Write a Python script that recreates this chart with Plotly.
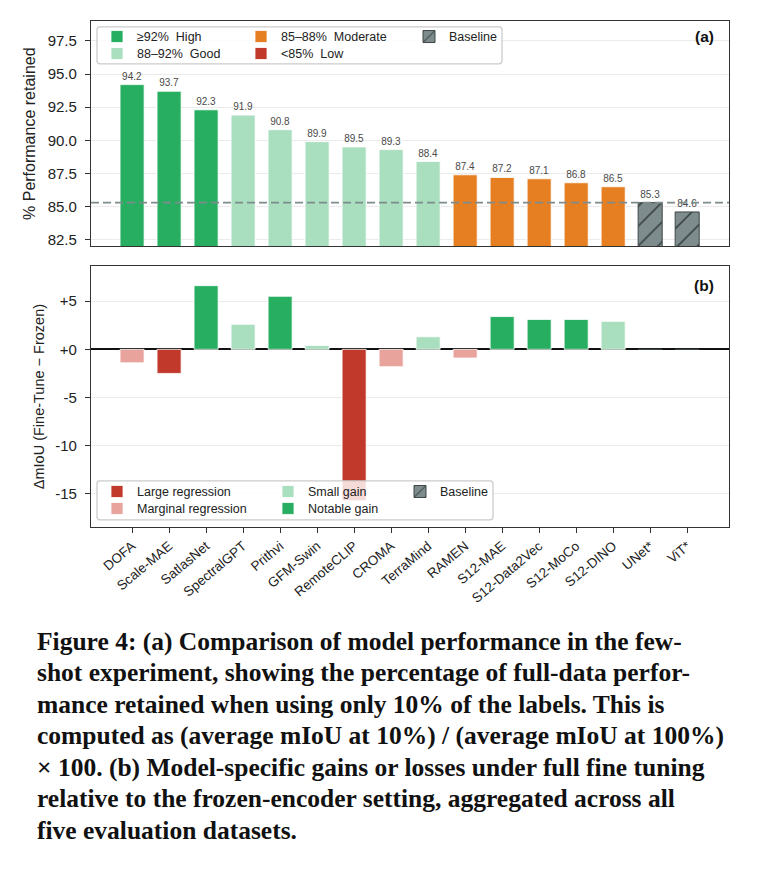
import plotly.graph_objects as go

# ---------------- data ----------------
models = ["DOFA", "Scale-MAE", "SatlasNet", "SpectralGPT", "Prithvi", "GFM-Swin",
          "RemoteCLIP", "CROMA", "TerraMind", "RAMEN", "S12-MAE", "S12-Data2Vec",
          "S12-MoCo", "S12-DINO", "UNet*", "ViT*"]
retained = [94.2, 93.7, 92.3, 91.9, 90.8, 89.9, 89.5, 89.3, 88.4,
            87.4, 87.2, 87.1, 86.8, 86.5, 85.3, 84.6]
delta_miou = [-1.4, -2.5, 6.6, 2.6, 5.5, 0.4, -15.7, -1.8, 1.3,
              -0.9, 3.4, 3.1, 3.1, 2.9, 0.0, 0.0]
baseline_models = ["UNet*", "ViT*"]
baseline_reference = 85.3

a_tickvals = [82.5, 85.0, 87.5, 90.0, 92.5, 95.0, 97.5]
b_tickvals = [-15, -10, -5, 0, 5]
b_ticktext = ["-15", "-10", "-5", "+0", "+5"]

a_labels = ["≥92%\u00a0\u00a0High", "88–92%\u00a0\u00a0Good", "85–88%\u00a0\u00a0Moderate",
            "<85%\u00a0\u00a0Low", "Baseline"]
b_labels = ["Large regression", "Marginal regression", "Small gain", "Notable gain", "Baseline"]

caption_lines = [
    "Figure 4: (a) Comparison of model performance in the few-",
    "shot experiment, showing the percentage of full-data perfor-",
    "mance retained when using only 10% of the labels. This is",
    "computed as (average mIoU at 10%) / (average mIoU at 100%)",
    "× 100. (b) Model-specific gains or losses under full fine tuning",
    "relative to the frozen-encoder setting, aggregated across all",
    "five evaluation datasets.",
]

# ---------------- grouping ----------------
def group_a(m, v):
    if m in baseline_models:
        return 4
    if v >= 92:
        return 0
    if v >= 88:
        return 1
    if v >= 85:
        return 2
    return 3


def group_b(m, v):
    if m in baseline_models:
        return 4
    if v < -2:
        return 0
    if v < 0:
        return 1
    if v <= 3:
        return 2
    return 3


# ---------------- styling ----------------
W, H = 757, 869
def PX(x):
    return x / W
def PY(y):
    return 1 - y / H

FONT = "Liberation Sans, Arial, sans-serif"
C_HIGH, C_GOOD, C_MOD, C_LOW, C_BASE = "#27ae60", "#a9dfbf", "#e67e22", "#c0392b", "#7f8c8d"
C_MARG = "#e8a39c"
a_colors = [C_HIGH, C_GOOD, C_MOD, C_LOW, C_BASE]
b_colors = [C_LOW, C_MARG, C_GOOD, C_HIGH, C_BASE]

# legend text start (px) and row centre (px)
a_leg_pos = [(137, 37), (137, 54), (281, 37), (281, 54), (449, 37)]
b_leg_pos = [(137, 493), (137, 510), (308, 493), (308, 510), (440, 493)]
LEG_TEXT_OFFSET = 40

fig = go.Figure()

def add_group_traces(values, grouper, labels, colors, leg_pos, xaxis, yaxis, leg_start, show_text):
    layout_legends = {}
    for g in range(5):
        xs = [m for m, v in zip(models, values) if grouper(m, v) == g]
        ys = [v for m, v in zip(models, values) if grouper(m, v) == g]
        if not xs:
            # category has no members: keep a null entry so it still appears in the legend
            xs, ys = [models[0]], [None]
        is_base = g == 4
        marker = dict(color=colors[g],
                      line=dict(color="#3d4646" if is_base else "white", width=1.0 if is_base else 0.8))
        if is_base:
            marker["pattern"] = dict(shape="/", fgcolor="#3b4545", bgcolor=colors[g],
                                     size=14, solidity=0.12, fillmode="replace")
        lid = "legend" if leg_start + g == 1 else f"legend{leg_start + g}"
        tr = go.Bar(x=xs, y=ys, name=labels[g], marker=marker, width=0.65,
                    xaxis=xaxis, yaxis=yaxis, legend=lid, showlegend=True,
                    cliponaxis=False)
        if show_text:
            tr.update(text=[f"{v:.1f}" if v is not None else "" for v in ys],
                      textposition="outside",
                      textfont=dict(size=10, color="#4a4a4a", family=FONT),
                      constraintext="none")
        fig.add_trace(tr)
        tx, ty = leg_pos[g]
        layout_legends[lid] = dict(
            visible=True,
            x=PX(tx - LEG_TEXT_OFFSET), y=PY(ty), xanchor="left", yanchor="middle",
            bgcolor="rgba(0,0,0,0)", borderwidth=0, orientation="v",
            font=dict(size=12.5, color="#222", family=FONT), itemclick=False,
            itemdoubleclick=False)
    return layout_legends

legs = {}
legs.update(add_group_traces(retained, group_a, a_labels, a_colors, a_leg_pos, "x", "y", 1, True))
legs.update(add_group_traces(delta_miou, group_b, b_labels, b_colors, b_leg_pos, "x2", "y2", 6, False))

x_dom = [PX(91), PX(729)]
x_range = [-1.11, len(models) - 1 + 1.13]
axis_common = dict(showline=True, mirror=True, linecolor="#333", linewidth=1.3)

fig.update_layout(
    width=W, height=H, margin=dict(l=0, r=0, t=0, b=0),
    paper_bgcolor="white", plot_bgcolor="white", showlegend=True,
    barmode="overlay", font=dict(family=FONT, color="#222"),
    xaxis=dict(domain=x_dom, anchor="y", type="category", categoryorder="array",
               categoryarray=models, range=x_range, showticklabels=False,
               ticks="", showgrid=False, **axis_common),
    yaxis=dict(domain=[PY(247), PY(21)], anchor="x", range=[82.0, 99.0],
               tickvals=a_tickvals, tickformat=".1f", ticks="outside", ticklen=5,
               tickcolor="#333", tickfont=dict(size=15, color="#222"), ticklabelstandoff=5,
               showgrid=True, gridcolor="#ebebeb", gridwidth=1, zeroline=False,
               title=dict(text="% Performance retained", font=dict(size=16, color="#222"),
                          standoff=8),
               **axis_common),
    xaxis2=dict(domain=x_dom, anchor="y2", type="category", categoryorder="array",
                categoryarray=models, range=x_range, tickangle=-40,
                ticks="outside", ticklen=5, tickcolor="#333",
                tickfont=dict(size=13.5, color="#222"), showgrid=False, **axis_common),
    yaxis2=dict(domain=[PY(528), PY(267)], anchor="x2", range=[-18.4, 8.6],
                tickvals=b_tickvals, ticktext=b_ticktext, ticks="outside", ticklen=5,
                tickcolor="#333", tickfont=dict(size=15, color="#222"), ticklabelstandoff=5,
                showgrid=True, gridcolor="#ebebeb", gridwidth=1,
                zeroline=True, zerolinecolor="#111", zerolinewidth=1.6,
                title=dict(text="ΔmIoU (Fine-Tune − Frozen)", font=dict(size=14.5, color="#222"),
                           standoff=7),
                **axis_common),
    **legs,
)

# reference dashed line
fig.add_shape(type="line", xref="x domain", yref="y", x0=0, x1=1,
              y0=baseline_reference, y1=baseline_reference,
              line=dict(color="#7f8c8d", width=1.6, dash="8px,4px"), layer="above")

# legend boxes (rounded)
def rounded_box(x0, y0, x1, y1, r=3):
    pts = (f"M{PX(x0 + r)},{PY(y0)} L{PX(x1 - r)},{PY(y0)} Q{PX(x1)},{PY(y0)} {PX(x1)},{PY(y0 + r)} "
           f"L{PX(x1)},{PY(y1 - r)} Q{PX(x1)},{PY(y1)} {PX(x1 - r)},{PY(y1)} "
           f"L{PX(x0 + r)},{PY(y1)} Q{PX(x0)},{PY(y1)} {PX(x0)},{PY(y1 - r)} "
           f"L{PX(x0)},{PY(y0 + r)} Q{PX(x0)},{PY(y0)} {PX(x0 + r)},{PY(y0)} Z")
    return pts

for box in [(97, 27, 502, 64), (97, 482, 493, 521)]:
    fig.add_shape(type="path", xref="paper", yref="paper", path=rounded_box(*box),
                  fillcolor="rgba(255,255,255,0.82)", line=dict(color="#cccccc", width=1.3),
                  layer="above")

# panel labels
fig.add_annotation(text="<b>(a)</b>", xref="paper", yref="paper", x=PX(716), y=PY(37),
                   xanchor="right", yanchor="middle", showarrow=False,
                   font=dict(size=15.5, color="#111", family=FONT))
fig.add_annotation(text="<b>(b)</b>", xref="paper", yref="paper", x=PX(716), y=PY(286),
                   xanchor="right", yanchor="middle", showarrow=False,
                   font=dict(size=15.5, color="#111", family=FONT))

# caption
cap_y0, cap_dy = 643, 31.5
for i, line in enumerate(caption_lines):
    fig.add_annotation(text=line, xref="paper", yref="paper", x=PX(35), y=PY(cap_y0 + i * cap_dy),
                       xanchor="left", yanchor="middle", showarrow=False,
                       font=dict(size=25.5, color="#111", family="Liberation Serif, serif", weight="bold"))

fig.write_html("out.html")
